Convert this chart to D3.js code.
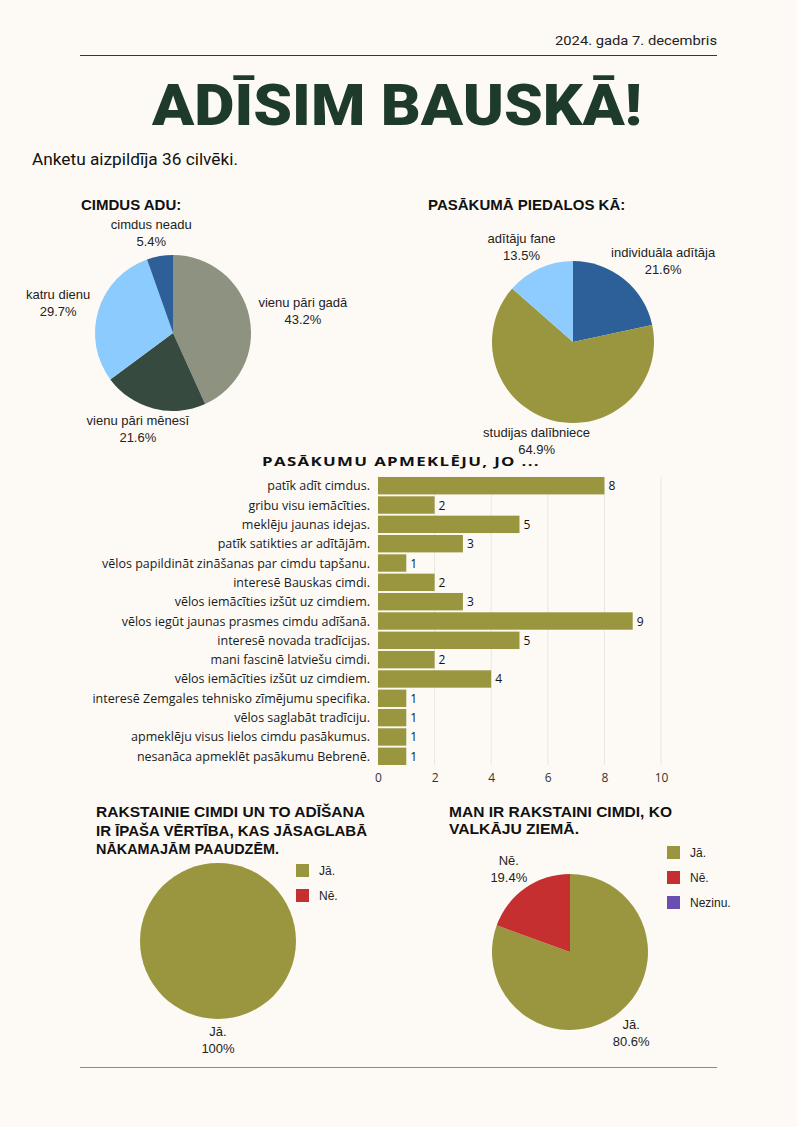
<!DOCTYPE html>
<html>
<head>
<meta charset="utf-8">
<script src="https://cdn.jsdelivr.net/npm/d3@7"></script>
<style>
  body { margin: 0; background: #fdfaf6; }
  svg { display: block; }
</style>
</head>
<body>
<script>
// --- data ---
const totalLine = "Anketu aizpildīja 36 cilvēki.";
const dateLine = "2024. gada 7. decembris";

const pie1Labels = ["vienu pāri gadā", "vienu pāri mēnesī", "katru dienu", "cimdus neadu"];
const pie1Values = [16, 8, 11, 2];
const pie1Colors = ["#8e9281", "#364a3f", "#8ccbfe", "#2e5f98"];

const pie2Labels = ["individuāla adītāja", "studijas dalībniece", "adītāju fane"];
const pie2Values = [8, 24, 5];
const pie2Colors = ["#2d5f99", "#9a963f", "#8ecbff"];

const barLabels = [
  "patīk adīt cimdus.",
  "gribu visu iemācīties.",
  "meklēju jaunas idejas.",
  "patīk satikties ar adītājām.",
  "vēlos papildināt zināšanas par cimdu tapšanu.",
  "interesē Bauskas cimdi.",
  "vēlos iemācīties izšūt uz cimdiem.",
  "vēlos iegūt jaunas prasmes cimdu adīšanā.",
  "interesē novada tradīcijas.",
  "mani fascinē latviešu cimdi.",
  "vēlos iemācīties izšūt uz cimdiem.",
  "interesē Zemgales tehnisko zīmējumu specifika.",
  "vēlos saglabāt tradīciju.",
  "apmeklēju visus lielos cimdu pasākumus.",
  "nesanāca apmeklēt pasākumu Bebrenē."
];
const barValues = [8, 2, 5, 3, 1, 2, 3, 9, 5, 2, 4, 1, 1, 1, 1];
const barTicks = [0, 2, 4, 6, 8, 10];

const pie3Labels = ["Jā.", "Nē."];
const pie3Values = [36, 0];
const pie3Colors = ["#9a963f", "#c62f2f"];

const pie4Labels = ["Jā.", "Nē.", "Nezinu."];
const pie4Values = [29, 7, 0];
const pie4Colors = ["#9a963f", "#c62f2f", "#6a4fb0"];

function main(){
    const width = 797;
    const height = 1127;

    const svg = d3.select("body").append("svg")
        .attr("width", width)
        .attr("height", height);

    svg.append("rect").attr("width", width).attr("height", height).attr("fill", "#fdfaf6");

    // header
    svg.append("text")
        .attr("x", 717).attr("y", 45)
        .attr("text-anchor", "end")
        .attr("textLength", 162).attr("lengthAdjust", "spacingAndGlyphs")
        .style("font-family", "Roboto").style("font-size", "13px").style("fill", "#222")
        .text(dateLine);
    svg.append("line")
        .attr("x1", 80).attr("x2", 717).attr("y1", 55.5).attr("y2", 55.5)
        .attr("stroke", "#2e3b33").attr("stroke-width", 1.2);
    svg.append("text")
        .attr("x", 152).attr("y", 125)
        .attr("textLength", 490).attr("lengthAdjust", "spacingAndGlyphs")
        .style("font-family", "Roboto").style("font-weight", 900).style("font-size", "58px")
        .style("fill", "#1d3a2a")
        .text("ADĪSIM BAUSKĀ!");
    svg.append("text")
        .attr("x", 32).attr("y", 165)
        .attr("textLength", 206).attr("lengthAdjust", "spacingAndGlyphs")
        .style("font-family", "Roboto").style("font-size", "16px").style("fill", "#111")
        .text(totalLine);

    function title(lines, x, y, lh, widths){
        lines.forEach(function(t, i){
            const el = svg.append("text")
                .attr("x", x).attr("y", y + i*lh)
                .style("font-family", "Liberation Sans, Arial").style("font-weight", "bold")
                .style("font-size", "15px").style("fill", "#111")
                .text(t);
            if(widths && widths[i]) el.attr("textLength", widths[i]).attr("lengthAdjust", "spacingAndGlyphs");
        });
    }

    // pie with outside labels
    function drawPie(cx, cy, r, labels, values, colors, total){
        const pie = d3.pie().sort(null).value(function(d){ return d; });
        const arcs = pie(values);
        const arc = d3.arc().innerRadius(0).outerRadius(r);
        const g = svg.append("g").attr("transform", "translate(" + cx + "," + cy + ")");
        g.selectAll("path").data(arcs.filter(function(d){ return d.value > 0; })).enter().append("path")
            .attr("d", arc)
            .attr("fill", function(d){ return colors[d.index]; });

        arcs.forEach(function(d, i){
            if(values[i] === 0) return;
            const pct = values[i] / total * 100;
            const pctText = pct === 100 ? "100%" : pct.toFixed(1) + "%";
            const mid = (d.startAngle + d.endAngle) / 2;
            const sx = Math.sin(mid), sy = -Math.cos(mid);
            const t = g.append("text")
                .attr("text-anchor", "middle")
                .style("font-family", "Liberation Sans, Arial").style("font-size", "13px").style("fill", "#222");
            t.append("tspan").attr("x", 0).attr("dy", 0).text(labels[i]);
            t.append("tspan").attr("x", 0).attr("dy", 17).text(pctText);
            const w = t.node().getBBox().width;
            const px = (r + 10) * sx + sx * w / 2;
            const py = (r + 12) * sy + sy * 10;
            t.attr("transform", "translate(" + px + "," + (py - 5) + ")");
        });
    }

    function legend(x, y, labels, colors){
        labels.forEach(function(l, i){
            svg.append("rect").attr("x", x).attr("y", y + i*25).attr("width", 13).attr("height", 13)
                .attr("fill", colors[i]);
            svg.append("text").attr("x", x + 23).attr("y", y + i*25 + 11)
                .style("font-family", "Liberation Sans, Arial").style("font-size", "12px").style("fill", "#222")
                .text(l);
        });
    }

    // pie 1
    title(["CIMDUS ADU:"], 81, 210, 18);
    drawPie(173, 333, 78, pie1Labels, pie1Values, pie1Colors, d3.sum(pie1Values));

    // pie 2
    title(["PASĀKUMĀ PIEDALOS KĀ:"], 428, 210, 18);
    drawPie(573, 342, 81, pie2Labels, pie2Values, pie2Colors, d3.sum(pie2Values));

    // bar chart
    svg.append("text")
        .attr("x", 262).attr("y", 466)
        .attr("textLength", 278).attr("lengthAdjust", "spacingAndGlyphs")
        .style("font-family", "Open Sans").style("font-weight", "bold").style("font-size", "12.5px")
        .style("letter-spacing", "1px")
        .style("fill", "#111")
        .text("PASĀKUMU APMEKLĒJU, JO ...");

    const x = d3.scaleLinear().domain([0, 10]).range([378, 661]);
    const y = d3.scaleBand().domain(d3.range(barLabels.length)).range([477, 765]).paddingInner(0.1);

    svg.append("g").selectAll("line").data(barTicks.slice(1)).enter().append("line")
        .attr("x1", function(d){ return x(d); }).attr("x2", function(d){ return x(d); })
        .attr("y1", 477).attr("y2", 765)
        .attr("stroke", "#e9e6e1").attr("stroke-width", 1);

    svg.append("g").selectAll("rect").data(barValues).enter().append("rect")
        .attr("x", x(0))
        .attr("y", function(d, i){ return y(i); })
        .attr("width", function(d){ return x(d) - x(0); })
        .attr("height", y.bandwidth())
        .attr("fill", "#9a953f");

    svg.append("g").selectAll("text").data(barValues).enter().append("text")
        .attr("x", function(d){ return x(d) + 4; })
        .attr("y", function(d, i){ return y(i) + y.bandwidth()/2 + 4.5; })
        .style("font-family", "Open Sans").style("font-size", "12px").style("fill", "#111")
        .text(function(d){ return d; });

    svg.append("g").selectAll("text").data(barLabels).enter().append("text")
        .attr("x", 370)
        .attr("y", function(d, i){ return y(i) + y.bandwidth()/2 + 4.5; })
        .attr("text-anchor", "end")
        .style("font-family", "Open Sans").style("font-size", "12.5px").style("fill", "#1a1a1a")
        .text(function(d){ return d; });

    const xAxis = svg.append("g")
        .attr("transform", "translate(0,767)")
        .call(d3.axisBottom(x).tickValues(barTicks).tickSize(0).tickPadding(6));
    xAxis.select(".domain").remove();
    xAxis.selectAll("text")
        .style("font-family", "Open Sans").style("font-size", "12px").style("fill", "#333");

    // pie 3
    title(["RAKSTAINIE CIMDI UN TO ADĪŠANA", "IR ĪPAŠA VĒRTĪBA, KAS JĀSAGLABĀ", "NĀKAMAJĀM PAAUDZĒM."], 96, 817, 18.5,
        [269, 271, 183]);
    drawPie(218, 941, 78, pie3Labels, pie3Values, pie3Colors, d3.sum(pie3Values));
    legend(296, 864, pie3Labels, pie3Colors);

    // pie 4
    title(["MAN IR RAKSTAINI CIMDI, KO", "VALKĀJU ZIEMĀ."], 449, 817, 17, [223, 130]);
    drawPie(570, 952, 78, pie4Labels, pie4Values, pie4Colors, d3.sum(pie4Values));
    legend(667, 846, pie4Labels, pie4Colors);

    // footer line
    svg.append("line")
        .attr("x1", 80).attr("x2", 717).attr("y1", 1067.5).attr("y2", 1067.5)
        .attr("stroke", "#8a8a8a").attr("stroke-width", 1.2);
}
main();
</script>
</body>
</html>
